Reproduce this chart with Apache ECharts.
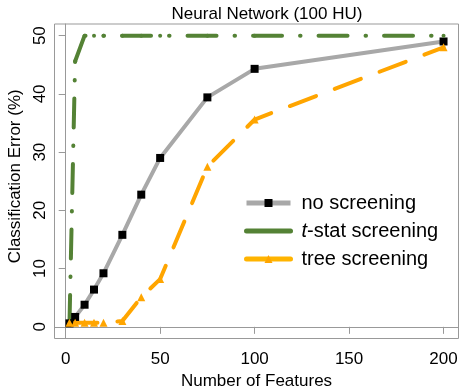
<!DOCTYPE html>
<html><head><meta charset="utf-8">
<script src="https://cdn.jsdelivr.net/npm/echarts@6/dist/echarts.min.js"></script>
<style>html,body{margin:0;padding:0;background:#fff}#c{width:462px;height:387px}</style>
</head><body><div id="c"></div>
<script>
const features = [2, 5, 10, 15, 20, 30, 40, 50, 75, 100, 200];
const noScreening = [0.6, 1.7, 3.8, 6.4, 9.2, 15.8, 22.7, 29.0, 39.4, 44.3, 49.0];
const tstatScreening = [0.5, 45.6, 50, 50, 50, 50, 50, 50, 50, 50, 50];
const treeScreening = [0.7, 0.7, 0.7, 0.7, 0.7, 1.0, 5.1, 8.2, 27.5, 35.6, 48.0];
const xTicks = [0, 50, 100, 150, 200];
const yTicks = [0, 10, 20, 30, 40, 50];
const seriesNames = ['no screening', 't-stat screening', 'tree screening'];

const FONT = 'Liberation Sans, Arial, sans-serif';
const pairs = arr => features.map((x, i) => [x, arr[i]]);

const chart = echarts.init(document.getElementById('c'), null, {renderer: 'canvas'});
chart.setOption({
  animation: false,
  backgroundColor: '#fff',
  title: {
    text: 'Neural Network (100 HU)',
    left: 262, textAlign: 'center', top: 1,
    textStyle: {fontFamily: FONT, fontSize: 17, fontWeight: 'normal', color: '#000'}
  },
  grid: {left: 54.5, right: 3.5, top: 24, bottom: 48.5, show: true, borderColor: '#999', borderWidth: 1,
    containLabel: false, outerBoundsMode: 'none'},
  xAxis: {
    type: 'value', min: -5.92, max: 207.92,
    name: 'Number of Features', nameLocation: 'middle', nameGap: 34,
    nameTextStyle: {fontFamily: FONT, fontSize: 17, color: '#000'},
    axisLine: {show: true, lineStyle: {color: '#999'}},
    axisTick: {show: true, customValues: xTicks, length: 7, lineStyle: {color: '#999'}},
    axisLabel: {customValues: xTicks, fontFamily: FONT, fontSize: 17, color: '#000', margin: 12},
    splitLine: {show: false}
  },
  yAxis: {
    type: 'value', min: -2, max: 52,
    name: 'Classification Error (%)', nameLocation: 'middle', nameGap: 27, nameRotate: 90,
    nameTextStyle: {fontFamily: FONT, fontSize: 17, color: '#000', padding: [0, 0, 0, 10]},
    axisLine: {show: true, lineStyle: {color: '#999'}},
    axisTick: {show: true, customValues: yTicks, length: 7, lineStyle: {color: '#999'}},
    axisLabel: {customValues: yTicks, rotate: 90, fontFamily: FONT, fontSize: 17, color: '#000', margin: 6},
    splitLine: {show: false}
  },
  legend: {
    orient: 'vertical', left: 244, top: 193, padding: 0,
    itemWidth: 44, itemHeight: 10, itemGap: 8,
    textStyle: {fontFamily: FONT, fontSize: 20, color: '#000', padding: [0, 0, 0, 6],
      rich: {i: {fontFamily: FONT, fontSize: 20, fontStyle: 'italic', color: '#000'}}},
    formatter: name => name === 't-stat screening' ? '{i|t}-stat screening' : name,
    data: [
      {name: seriesNames[0], lineStyle: {type: 'solid', width: 5}},
      {name: seriesNames[1], lineStyle: {type: 'solid', width: 5}, itemStyle: {opacity: 0}},
      {name: seriesNames[2], lineStyle: {type: 'solid', width: 5, color: '#FFB400'}}
    ]
  },
  series: [
    {
      name: seriesNames[0], type: 'line', data: pairs(noScreening),
      symbol: 'rect', symbolSize: 8,
      itemStyle: {color: '#000'},
      lineStyle: {color: '#A8A8A8', width: 4}
    },
    {
      name: seriesNames[1], type: 'line', data: pairs(tstatScreening),
      symbol: 'circle', symbolSize: 4,
      itemStyle: {color: '#548235'},
      lineStyle: {color: '#548235', width: 4, type: [29, 18, 0.5, 18], cap: 'round'}
    },
    {
      name: seriesNames[2], type: 'line', data: pairs(treeScreening),
      symbol: 'triangle', symbolSize: 8,
      itemStyle: {color: '#FFA500'},
      lineStyle: {color: '#FFA500', width: 4, type: [28, 20], cap: 'round'}
    }
  ]
});
</script></body></html>
